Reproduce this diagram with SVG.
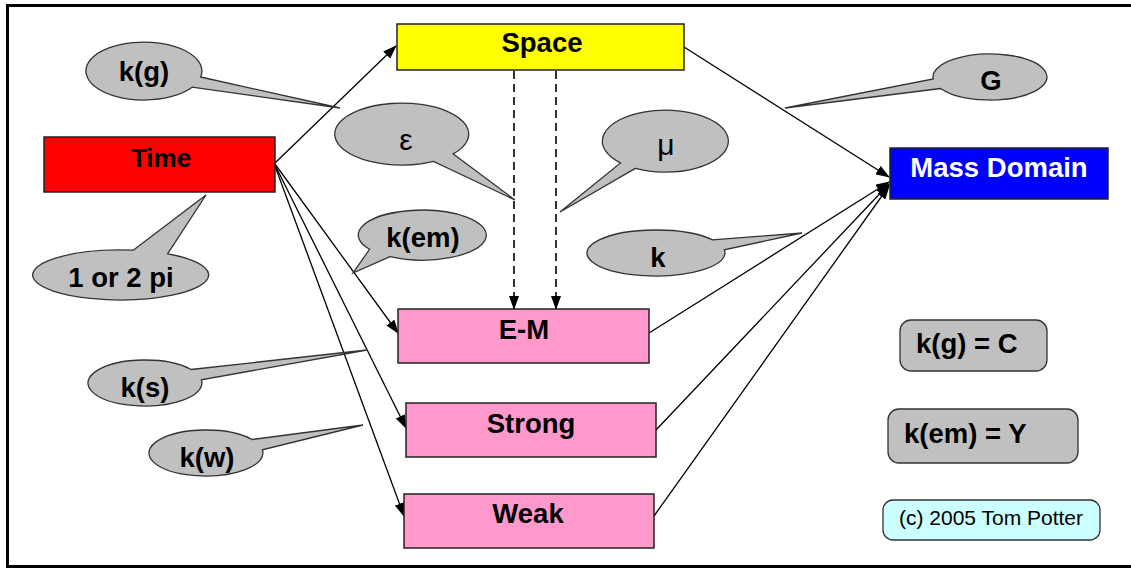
<svg xmlns="http://www.w3.org/2000/svg" width="1131" height="569" viewBox="0 0 1131 569">
<style>
.lbl{font-family:"Liberation Sans",Arial,sans-serif;font-weight:bold;font-size:27.5px;fill:#000;text-anchor:middle}
.greek{font-family:"Liberation Sans",Arial,sans-serif;font-size:30px;fill:#000;text-anchor:middle}
.box{stroke:#222;stroke-width:1.5}
.bub{fill:#c0c0c0;stroke:#333;stroke-width:1.3}
.ln{stroke:#000;stroke-width:1.3;fill:none}
.dash{stroke:#000;stroke-width:1.6;fill:none;stroke-dasharray:8 5}
</style>
<defs>
<marker id="ah" markerWidth="14" markerHeight="10" refX="13" refY="5" orient="auto" markerUnits="userSpaceOnUse">
<path d="M0,0 L14,5 L0,10 Z" fill="#000"/>
</marker>
</defs>
<rect width="1131" height="569" fill="#fff"/>
<path d="M1131 5.5 H7.5 V566.5 H1131" fill="none" stroke="#000" stroke-width="3"/>

<g id="connectors">
<line class="ln" x1="275" y1="163" x2="396" y2="46" marker-end="url(#ah)"/>
<line class="ln" x1="275" y1="164" x2="398" y2="333" marker-end="url(#ah)"/>
<line class="ln" x1="275" y1="165" x2="406" y2="428" marker-end="url(#ah)"/>
<line class="ln" x1="275" y1="166" x2="404" y2="516" marker-end="url(#ah)"/>
<line class="ln" x1="684" y1="47" x2="889" y2="177" marker-end="url(#ah)"/>
<line class="ln" x1="649" y1="333" x2="889" y2="182" marker-end="url(#ah)"/>
<line class="ln" x1="656" y1="430" x2="889" y2="184" marker-end="url(#ah)"/>
<line class="ln" x1="654" y1="516" x2="889" y2="186" marker-end="url(#ah)"/>
<line class="dash" x1="514" y1="71" x2="514" y2="309" marker-end="url(#ah)"/>
<line class="dash" x1="556" y1="71" x2="556" y2="309" marker-end="url(#ah)"/>
</g>

<g id="time"><rect class="box" x="44" y="137" width="231" height="55" fill="#ff0000"/><text class="lbl" x="161" y="167" style="font-size:26px">Time</text></g>
<g id="space"><rect class="box" x="397" y="24" width="287" height="46" fill="#ffff00"/><text class="lbl" x="542" y="52">Space</text></g>
<g id="mass"><rect class="box" x="890" y="148" width="218" height="51" fill="#0000ff"/><text class="lbl" x="999" y="177" style="fill:#fff">Mass Domain</text></g>
<g id="em"><rect class="box" x="398" y="309" width="251" height="54" fill="#ff99cc"/><text class="lbl" x="524" y="339">E-M</text></g>
<g id="strong"><rect class="box" x="406" y="403" width="250" height="54" fill="#ff99cc"/><text class="lbl" x="531" y="433">Strong</text></g>
<g id="weak"><rect class="box" x="404" y="494" width="250" height="54" fill="#ff99cc"/><text class="lbl" x="528" y="523">Weak</text></g>

<g id="c-kg"><path class="bub" d="M200.7 77 L340 108 L192.1 87.2 A58 29 0 1 1 200.7 77 Z"/><text class="lbl" x="144" y="81">k(g)</text></g>
<g id="c-pi"><path class="bub" d="M133.2 250.2 L206 195 L167.6 253.8 A88 25 0 1 1 133.2 250.2 Z"/><text class="lbl" x="121" y="287">1 or 2 pi</text></g>
<g id="c-eps"><path class="bub" d="M453.3 153.9 L515 200 L433.5 161.4 A67 31 0 1 1 453.3 153.9 Z"/><text class="greek" x="406" y="150">ε</text></g>
<g id="c-mu"><path class="bub" d="M635.4 168.4 L560 212 L620.5 162.9 A63 31 0 1 1 635.4 168.4 Z"/><text class="greek" x="666" y="155">μ</text></g>
<g id="c-kem"><path class="bub" d="M390 256.7 L353 273 L369.6 249.3 A64 25 0 1 1 390 256.7 Z"/><text class="lbl" x="423" y="247">k(em)</text></g>
<g id="c-k"><path class="bub" d="M712.5 239.8 L802 233 L724.3 249.8 A69 23 0 1 1 712.5 239.8 Z"/><text class="lbl" x="658" y="267">k</text></g>
<g id="c-G"><path class="bub" d="M940.6 88.5 L785 108 L933.2 79 A57 23 0 1 1 940.6 88.5 Z"/><text class="lbl" x="991" y="90">G</text></g>
<g id="c-ks"><path class="bub" d="M191.1 369.5 L367 350 L201.4 379.8 A57 23 0 1 1 191.1 369.5 Z"/><text class="lbl" x="145" y="397">k(s)</text></g>
<g id="c-kw"><path class="bub" d="M252.1 439.5 L363 425 L262.4 449.8 A57 23 0 1 1 252.1 439.5 Z"/><text class="lbl" x="207" y="467">k(w)</text></g>

<g id="legend-kg"><rect class="bub" x="900" y="320" width="147" height="51" rx="11"/><text class="lbl" x="916" y="353" style="text-anchor:start">k(g) = C</text></g>
<g id="legend-kem"><rect class="bub" x="888" y="409" width="190" height="54" rx="11"/><text class="lbl" x="904" y="443" style="text-anchor:start">k(em) = Y</text></g>
<g id="copyright"><rect x="883" y="500" width="217" height="40" rx="10" fill="#ccffff" stroke="#333" stroke-width="1.3"/><text x="991" y="525" style="font-family:'Liberation Sans',Arial,sans-serif;font-size:21px;text-anchor:middle;fill:#000">(c) 2005 Tom Potter</text></g>
</svg>
